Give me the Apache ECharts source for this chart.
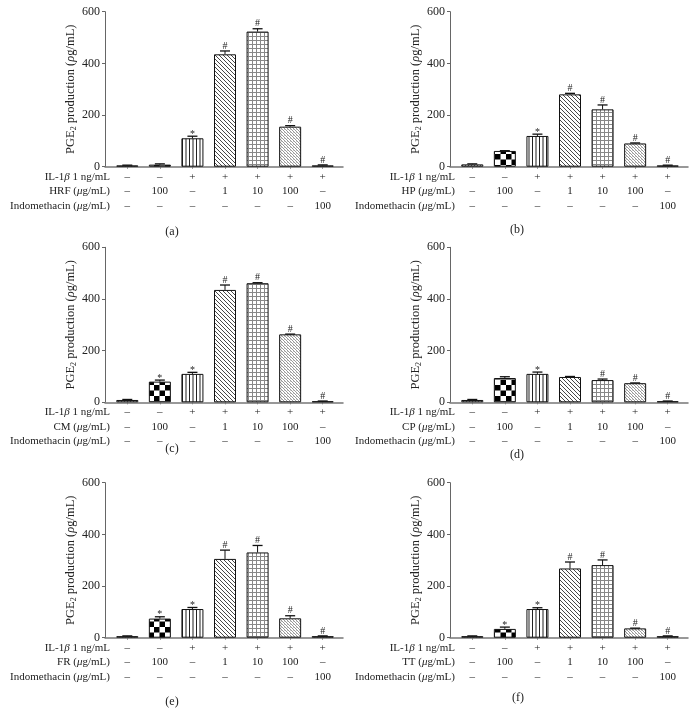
<!DOCTYPE html>
<html>
<head>
<meta charset="utf-8">
<script src="https://cdn.jsdelivr.net/npm/echarts@6/dist/echarts.min.js"></script>
<style>html,body{margin:0;padding:0;background:#fff;}#c{width:691px;height:720px;}</style>
</head>
<body>
<div id="c"></div>
<script>
// ---- data ----
const il1bRow = ['–','–','+','+','+','+','+'];
const drugRow = ['–','100','–','1','10','100','–'];
const indoRow = ['–','–','–','–','–','–','100'];
const drugNames = ['HRF','HP','CM','CP','FR','TT'];
const captions = ['(a)','(b)','(c)','(d)','(e)','(f)'];
const yTicks = [0, 200, 400, 600];

const valuesA = [5, 8, 110, 435, 523, 155, 5];
const errA    = [1, 3, 8, 13, 11, 4, 2];
const marksA  = ['', '', '*', '#', '#', '#', '#'];

const valuesB = [9, 61, 119, 280, 222, 90, 5];
const errB    = [2, 1, 7, 4, 17, 2, 1];
const marksB  = ['', '', '*', '#', '#', '#', '#'];

const valuesC = [9, 80, 110, 435, 461, 263, 4];
const errC    = [2, 6, 6, 19, 2, 1, 1];
const marksC  = ['', '*', '*', '#', '#', '#', '#'];

const valuesD = [9, 94, 110, 98, 86, 74, 4];
const errD    = [2, 5, 7, 2, 4, 1, 1];
const marksD  = ['', '', '*', '', '#', '#', '#'];

const valuesE = [6, 74, 111, 305, 330, 75, 6];
const errE    = [1, 7, 6, 34, 27, 10, 1];
const marksE  = ['', '*', '*', '#', '#', '#', '#'];

const valuesF = [6, 34, 111, 268, 281, 36, 6];
const errF    = [1, 7, 5, 25, 20, 1, 1];
const marksF  = ['', '*', '*', '#', '#', '#', '#'];

const allValues = [valuesA, valuesB, valuesC, valuesD, valuesE, valuesF];
const allErr = [errA, errB, errC, errD, errE, errF];
const allMarks = [marksA, marksB, marksC, marksD, marksE, marksF];

// ---- layout / style ----
const FONT = 'Liberation Serif';
const panelLeft = [105, 450, 105, 450, 105, 450];
const panelTop = [11.7, 11.7, 247.3, 247.3, 482.7, 482.7];
const plotH = 155, plotW = 238;
const capPos = [[172,232],[517,230],[172,449],[517,455],[172,702],[518,698]];

function mk(w, h, draw) {
  const c = document.createElement('canvas');
  c.width = w; c.height = h;
  const ctx = c.getContext('2d');
  ctx.fillStyle = '#fff'; ctx.fillRect(0, 0, w, h);
  draw(ctx);
  return {image: c, repeat: 'repeat'};
}
const patStipple = mk(3, 3, ctx => { ctx.fillStyle = '#666'; ctx.fillRect(0,0,1,1); ctx.fillRect(2,1,1,1); ctx.fillRect(1,2,1,1); });
const patChecker = mk(11, 11, ctx => { ctx.fillStyle = '#000'; ctx.fillRect(0,0,5.5,5.5); ctx.fillRect(5.5,5.5,5.5,5.5); });
const patVert = mk(7, 2, ctx => { ctx.fillStyle = '#222'; ctx.fillRect(0,0,1,2); ctx.fillRect(3.5,0,1,2); });
const patDiag = mk(4, 4, ctx => { ctx.strokeStyle = '#333'; ctx.lineWidth = 0.9; ctx.beginPath();
  ctx.moveTo(-1,-1); ctx.lineTo(5,5); ctx.moveTo(-1,3); ctx.lineTo(1,5); ctx.moveTo(3,-1); ctx.lineTo(5,1); ctx.stroke(); });
const patGrid = mk(4, 4, ctx => { ctx.fillStyle = '#888'; ctx.fillRect(0,0,4,1); ctx.fillRect(0,0,1,4); });
const patFine = mk(3, 3, ctx => { ctx.fillStyle = '#999'; ctx.fillRect(0,0,1,1); ctx.fillRect(1,1,1,1); ctx.fillRect(2,2,1,1); ctx.fillStyle='#ccc'; ctx.fillRect(2,0,1,1); });
const barPatterns = [patStipple, patChecker, patVert, patDiag, patGrid, patFine, patStipple];

const grid = [], xAxis = [], yAxis = [], series = [], title = [];
for (let p = 0; p < 6; p++) {
  const L = panelLeft[p], T = panelTop[p];
  // frame grid (axis lines)
  grid.push({left: L, top: T, width: plotW, height: plotH});
  // bar grid
  grid.push({left: L + 6, top: T, width: plotW - 10, height: plotH});
  const gF = p * 2, gB = p * 2 + 1;
  xAxis.push({type: 'value', gridIndex: gF, min: 0, max: 1, axisLine: {show: true, lineStyle: {color: '#777', width: 1.5}},
    axisTick: {show: false}, axisLabel: {show: false}, splitLine: {show: false}});
  yAxis.push({type: 'value', gridIndex: gF, min: yTicks[0], max: yTicks[yTicks.length-1], interval: 200,
    axisLine: {show: true, lineStyle: {color: '#666', width: 1}},
    axisTick: {show: true, length: 3, lineStyle: {color: '#666'}},
    axisLabel: {fontFamily: FONT, fontSize: 12, color: '#222', margin: 5},
    splitLine: {show: false},
    name: '{t|PGE}{s|2}{t| production (}{i|ρ}{t|g/mL)}', nameLocation: 'middle', nameRotate: 90, nameGap: 25,
    nameTextStyle: {rich: {
      t: {fontFamily: FONT, fontSize: 12.5, color: '#222', lineHeight: 14},
      i: {fontFamily: FONT, fontSize: 12.5, color: '#222', lineHeight: 14, fontStyle: 'italic'},
      s: {fontFamily: FONT, fontSize: 8, color: '#222', lineHeight: 9, verticalAlign: 'bottom'}
    }}
  });
  xAxis.push({type: 'category', gridIndex: gB, data: il1bRow.map((_, i) => i),
    axisLine: {show: false}, axisTick: {show: true, alignWithLabel: true, length: 2, lineStyle: {color: '#777'}},
    axisLabel: {interval: 0, margin: 3, fontFamily: FONT, fontSize: 11, color: '#222', lineHeight: 14.5,
      formatter: (v, i) => [il1bRow[i], drugRow[i], indoRow[i]].join('\n')},
    splitLine: {show: false}});
  yAxis.push({type: 'value', gridIndex: gB, min: 0, max: 600, show: false});

  const vals = allValues[p], errs = allErr[p], marks = allMarks[p];
  series.push({type: 'bar', xAxisIndex: gB, yAxisIndex: gB, barWidth: 22, silent: true,
    data: vals.map((v, i) => ({value: v, itemStyle: {color: barPatterns[i], borderColor: '#111', borderWidth: 1}}))});
  series.push({type: 'custom', xAxisIndex: gB, yAxisIndex: gB, silent: true, z: 5,
    data: vals.map((v, i) => [i, v, errs[i]]),
    encode: {x: 0, y: 1},
    renderItem: (params, api) => {
      const i = api.value(0), v = api.value(1), e = api.value(2);
      const b = api.coord([i, v]), t = api.coord([i, v + e]);
      const ch = [
        {type: 'line', shape: {x1: b[0], y1: b[1], x2: t[0], y2: t[1]}, style: {stroke: '#111', lineWidth: 1}},
        {type: 'line', shape: {x1: t[0] - 5, y1: t[1], x2: t[0] + 5, y2: t[1]}, style: {stroke: '#111', lineWidth: 1.3}}
      ];
      const m = marks[params.dataIndex];
      if (m) ch.push({type: 'text', x: t[0], y: t[1] + (m === '*' ? 3 : 0),
        style: {text: m, fontFamily: FONT, fontSize: 10, fill: '#222', align: 'center', verticalAlign: 'bottom'}});
      return {type: 'group', children: ch};
    }});

  // row labels
  title.push({right: 691 - (L + 5), top: T + plotH + 3, padding: 0,
    text: '{t|IL-1}{i|β}{t| 1 ng/mL}\n{t|' + drugNames[p] + ' (}{i|μ}{t|g/mL)}\n{t|Indomethacin (}{i|μ}{t|g/mL)}',
    textStyle: {rich: {
      t: {fontFamily: FONT, fontSize: 11, color: '#222', lineHeight: 14.5, fontWeight: 'normal', align: 'right'},
      i: {fontFamily: FONT, fontSize: 11, color: '#222', lineHeight: 14.5, fontStyle: 'italic', fontWeight: 'normal', align: 'right'}
    }}});
  title.push({left: capPos[p][0], top: capPos[p][1] - 7, padding: 0, textAlign: 'center', text: captions[p],
    textStyle: {fontFamily: FONT, fontSize: 12, color: '#222', fontWeight: 'normal', lineHeight: 14}});
}

const chart = echarts.init(document.getElementById('c'), null, {renderer: 'canvas'});
chart.setOption({animation: false, backgroundColor: '#fff', title, grid, xAxis, yAxis, series});
</script>
</body>
</html>
